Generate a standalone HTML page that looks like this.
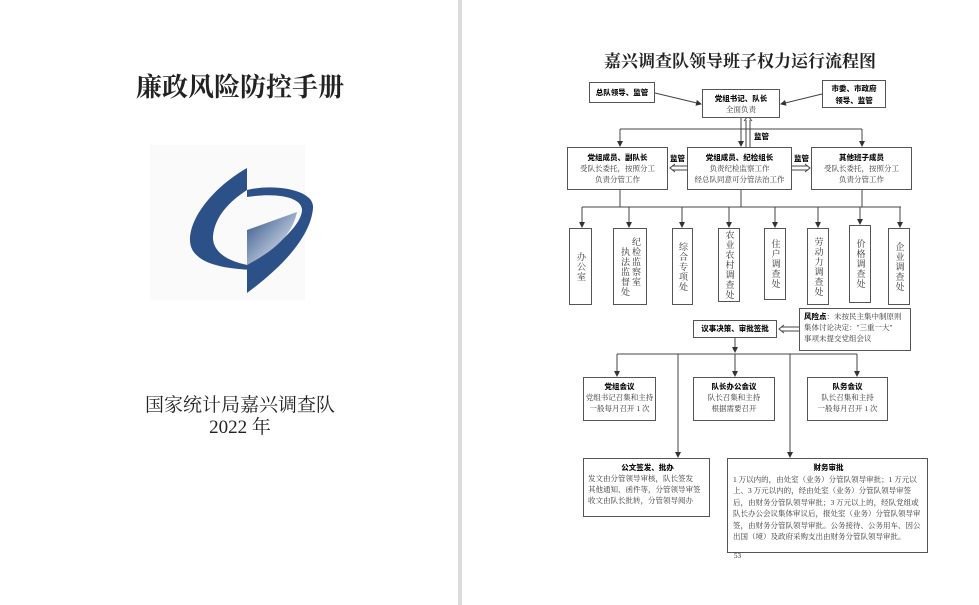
<!DOCTYPE html>
<html><head><meta charset="utf-8"><style>
body{margin:0;width:979px;height:605px;background:#fff;position:relative;overflow:hidden;font-family:"Liberation Serif","Noto Serif CJK SC",serif;color:#222}
.a{position:absolute}
.b{position:absolute;border:1px solid #555;background:#fff;box-sizing:border-box;text-align:center;font-size:7.5px;line-height:11px;color:#333}
.b b{font-family:"Liberation Sans","Noto Sans CJK SC",sans-serif;font-weight:900;color:#111}
.v{position:absolute;border:1px solid #555;background:#fff;box-sizing:border-box;writing-mode:vertical-rl;font-size:9px;line-height:11px;color:#333;display:flex;align-items:center;justify-content:center;letter-spacing:1px}
.l{font-family:"Liberation Sans","Noto Sans CJK SC",sans-serif;font-weight:900;font-size:7.5px;position:absolute;color:#111}
</style></head><body>
<div class="a" style="left:458px;top:0;width:4px;height:605px;background:#dcdcdc"></div>
<div class="a" style="left:0;top:67px;width:480px;text-align:center;font-size:26px;font-weight:bold;letter-spacing:0">廉政风险防控手册</div>
<svg class="a" style="left:0;top:0" width="458" height="605">
<defs><linearGradient id="g" x1="0" y1="0" x2="1" y2="1"><stop offset="0" stop-color="#2c5188"/><stop offset="1" stop-color="#fff"/></linearGradient></defs>
<rect x="150" y="145" width="155" height="155" fill="#fafafa"/>
<path d="M247,168 C217,185 190,215 190,240 C190,260 215,270 262,270 L262,267 C228,264 212,252 213,236 C215,216 230,201 247,190 Z" fill="#2c5188"/>
<path d="M247,190 C275,183 315,190 313,208 C311,235 285,265 247,293 L247,265 C272,250 300,228 302,211 C303,198 280,192 247,197 Z" fill="#2c5188"/>
<path d="M247,230 L297,212 C292,235 275,250 247,265 Z" fill="url(#g)"/>
</svg>
<div class="a" style="left:0;top:395px;width:480px;text-align:center;font-size:19px;line-height:22px">国家统计局嘉兴调查队<br>2022 年</div>

<div class="a" style="left:560px;top:47px;width:360px;text-align:center;font-size:17px;font-weight:bold">嘉兴调查队领导班子权力运行流程图</div>

<svg class="a" style="left:0;top:0" width="979" height="605">
<defs><marker id="m" markerWidth="6" markerHeight="6" refX="5" refY="3" orient="auto"><path d="M0,0 L6,3 L0,6 Z" fill="#333"/></marker></defs>
<g stroke="#444" stroke-width="1" fill="none">
<line x1="655" y1="93" x2="701" y2="104" marker-end="url(#m)"/>
<line x1="822" y1="94" x2="781" y2="104" marker-end="url(#m)"/>
<line x1="620" y1="129" x2="862" y2="129"/>
<line x1="620" y1="129" x2="620" y2="146" marker-end="url(#m)"/>
<line x1="862" y1="129" x2="862" y2="146" marker-end="url(#m)"/>
<line x1="741" y1="118" x2="741" y2="146" marker-end="url(#m)"/>
<line x1="746" y1="120" x2="746" y2="147"/><line x1="750" y1="120" x2="750" y2="147"/>
<path d="M744,121 L748,116 L752,121"/>
<line x1="620" y1="190" x2="620" y2="207"/><line x1="741" y1="190" x2="741" y2="207"/><line x1="862" y1="190" x2="862" y2="207"/>
<line x1="582" y1="207" x2="901" y2="207"/>
<line x1="582" y1="207" x2="582" y2="227" marker-end="url(#m)"/>
<line x1="629" y1="207" x2="629" y2="227" marker-end="url(#m)"/>
<line x1="682" y1="207" x2="682" y2="227" marker-end="url(#m)"/>
<line x1="729" y1="207" x2="729" y2="227" marker-end="url(#m)"/>
<line x1="775" y1="207" x2="775" y2="227" marker-end="url(#m)"/>
<line x1="818" y1="207" x2="818" y2="227" marker-end="url(#m)"/>
<line x1="860" y1="207" x2="860" y2="224" marker-end="url(#m)"/>
<line x1="900" y1="207" x2="900" y2="227" marker-end="url(#m)"/>
<path d="M687,166 L672,166 M687,170 L672,170 M675,164 L670,168 L675,172"/>
<path d="M792,166 L808,166 M792,170 L808,170 M805,164 L810,168 L805,172"/>
<path d="M799,327 L781,327 M799,331 L781,331 M784,325 L779,329 L784,333"/>
<line x1="735" y1="338" x2="735" y2="352" marker-end="url(#m)"/>
<line x1="617" y1="354" x2="857" y2="354"/>
<line x1="617" y1="354" x2="617" y2="376" marker-end="url(#m)"/>
<line x1="678" y1="354" x2="678" y2="457" marker-end="url(#m)"/>
<line x1="735" y1="354" x2="735" y2="376" marker-end="url(#m)"/>
<line x1="790" y1="354" x2="790" y2="457" marker-end="url(#m)"/>
<line x1="857" y1="354" x2="857" y2="376" marker-end="url(#m)"/>
</g></svg>
<div class="b" style="left:589px;top:82px;width:66px;height:21px;line-height:19px"><b>总队领导、监管</b></div>
<div class="b" style="left:702px;top:89px;width:78px;height:29px;padding-top:3px"><b>党组书记、队长</b><br>全面负责</div>
<div class="b" style="left:822px;top:80px;width:64px;height:28px;padding-top:2px;line-height:12px"><b>市委、市政府<br>领导、监管</b></div>
<div class="l" style="left:754px;top:131px">监管</div>
<div class="l" style="left:670px;top:153px">监管</div>
<div class="l" style="left:794px;top:153px">监管</div>
<div class="b" style="left:567px;top:147px;width:101px;height:43px;padding-top:4px"><b>党组成员、副队长</b><br>受队长委托，按照分工<br>负责分管工作</div>
<div class="b" style="left:687px;top:147px;width:105px;height:43px;padding-top:4px"><b>党组成员、纪检组长</b><br>负责纪检监察工作<br>经总队同意可分管法治工作</div>
<div class="b" style="left:811px;top:147px;width:101px;height:43px;padding-top:4px"><b>其他班子成员</b><br>受队长委托，按照分工<br>负责分管工作</div>
<div class="v" style="left:569px;top:228px;width:23px;height:77px">办公室</div>
<div class="v" style="left:613px;top:228px;width:34px;height:77px"><span>纪检监察室<br>　执法监督处</span></div>
<div class="v" style="left:672px;top:228px;width:21px;height:77px">综合专项处</div>
<div class="v" style="left:718px;top:228px;width:22px;height:74px">农业农村调查处</div>
<div class="v" style="left:764px;top:228px;width:22px;height:72px">住户调查处</div>
<div class="v" style="left:807px;top:228px;width:22px;height:77px">劳动力调查处</div>
<div class="v" style="left:849px;top:225px;width:22px;height:78px">价格调查处</div>
<div class="v" style="left:888px;top:228px;width:22px;height:77px">企业调查处</div>
<div class="b" style="left:693px;top:320px;width:84px;height:18px;line-height:16px"><b>议事决策、审批签批</b></div>
<div class="b" style="left:799px;top:308px;width:112px;height:43px;text-align:left;padding:2px 0 0 4px"><b>风险点</b>：未按民主集中制原则<br>集体讨论决定："三重一大"<br>事项未提交党组会议</div>
<div class="b" style="left:583px;top:377px;width:73px;height:44px;padding-top:3px"><b>党组会议</b><br>党组书记召集和主持<br>一般每月召开 1 次</div>
<div class="b" style="left:693px;top:377px;width:82px;height:44px;padding-top:3px"><b>队长办公会议</b><br>队长召集和主持<br>根据需要召开</div>
<div class="b" style="left:807px;top:377px;width:81px;height:44px;padding-top:3px"><b>队务会议</b><br>队长召集和主持<br>一般每月召开 1 次</div>
<div class="b" style="left:583px;top:458px;width:127px;height:59px;padding:3px 2px 0 4px;text-align:left"><div style="text-align:center"><b>公文签发、批办</b></div>发文由分管领导审核，队长签发<br>其他通知、函件等，分管领导审签<br>收文由队长批转，分管领导阅办</div>
<div class="b" style="left:727px;top:458px;width:201px;height:95px;padding:3px 3px 0 5px;text-align:left;line-height:11.5px"><div style="text-align:center"><b>财务审批</b></div>1 万以内的，由处室（业务）分管队领导审批；1 万元以上、3 万元以内的，经由处室（业务）分管队领导审签后，由财务分管队领导审批；3 万元以上的，经队党组或队长办公会议集体审议后，报处室（业务）分管队领导审签，由财务分管队领导审批。公务接待、公务用车、因公出国（境）及政府采购支出由财务分管队领导审批。</div>
<div class="a" style="left:734px;top:552px;font-size:7px">53</div>
</body></html>
